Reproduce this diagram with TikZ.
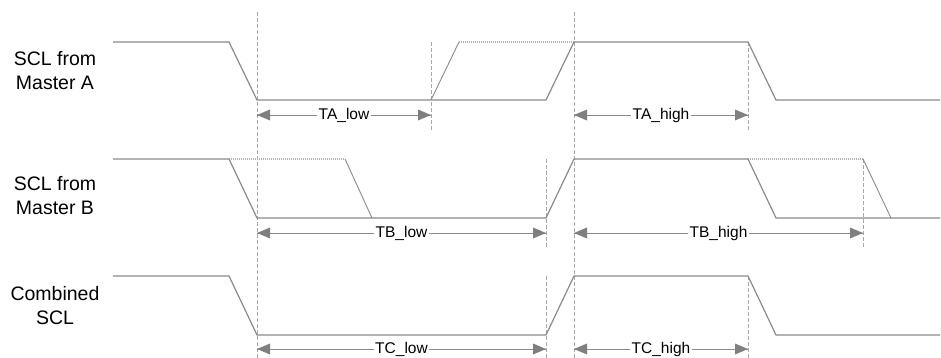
\documentclass[tikz,border=0pt]{standalone}
\usepackage{fontspec}
\setmainfont{Liberation Sans}
\definecolor{sig}{HTML}{8A8A8A}
\definecolor{tip}{HTML}{7F7F7F}
\definecolor{dsh}{HTML}{A8A8A8}
\definecolor{dot}{HTML}{B0B0B0}
\begin{document}
\begin{tikzpicture}[x=1pt,y=-1pt,
  wave/.style={draw=sig,line width=1.2pt,line join=round},
  thinwave/.style={draw=sig,line width=0.9pt},
  dotwave/.style={draw=dot,line width=1.1pt,dash pattern=on 1pt off 1pt},
  guide/.style={draw=dsh,line width=0.9pt,dash pattern=on 4pt off 2pt},
  dim/.style={draw=sig,line width=0.8pt},
  ltip/.pic={\fill[tip] (0,0) -- (13,-5.5) -- (13,5.5) -- cycle;},
  rtip/.pic={\fill[tip] (0,0) -- (-13,-5.5) -- (-13,5.5) -- cycle;},
  dimlabel/.style={fill=white,inner sep=1.5pt,font=\fontsize{15.5}{18}\selectfont},
  rowlabel/.style={align=center,inner sep=0pt,font=\fontsize{19.5}{24}\selectfont}]
\useasboundingbox (0,0) rectangle (941,358);
% row labels
\node[rowlabel] (la) at (55,71) {SCL from\\Master A};
\node[rowlabel] (lb) at (55,196) {SCL from\\Master B};
\node[rowlabel] (lc) at (55,306) {Combined\\SCL};
% guide lines
\draw[guide] (257,12) -- (257,358);
\draw[guide] (574,12) -- (574,358);
\draw[guide] (431,42) -- (431,130);
\draw[guide] (748,42) -- (748,130);
\draw[guide] (546,159) -- (546,248);
\draw[guide] (863,159) -- (863,248);
\draw[guide] (546,276) -- (546,358);
\draw[guide] (748,276) -- (748,358);
% Master A
\draw[dotwave] (459,42) -- (574,42);
\draw[thinwave] (431,100) -- (459,42);
\draw[wave] (113,42) -- (229,42) -- (257,100) -- (546,100) -- (574,42) -- (748,42) -- (776,100) -- (940,100);
% Master B
\draw[dotwave] (229,159) -- (345,159);
\draw[dotwave] (748,159) -- (863,159);
\draw[thinwave] (345,159) -- (372,218);
\draw[thinwave] (863,159) -- (891,218);
\draw[wave] (113,159) -- (229,159) -- (257,218) -- (546,218) -- (574,159) -- (748,159) -- (776,218) -- (940,218);
% Combined
\draw[wave] (113,276) -- (229,276) -- (257,335) -- (546,335) -- (574,276) -- (748,276) -- (776,335) -- (940,335);
% dimension arrows
\coordinate (a1) at (257,115); \coordinate (a2) at (431,115);
\coordinate (a3) at (574,115); \coordinate (a4) at (748,115);
\coordinate (b1) at (257,233); \coordinate (b2) at (546,233);
\coordinate (b3) at (574,233); \coordinate (b4) at (863,233);
\coordinate (c1) at (257,349); \coordinate (c2) at (546,349);
\coordinate (c3) at (574,349); \coordinate (c4) at (748,349);
\draw[dim] (a1) -- node[dimlabel] (ta1) {TA\_low} (a2);
\draw[dim] (a3) -- node[dimlabel] (ta2) {TA\_high} (a4);
\draw[dim] (b1) -- node[dimlabel] (tb1) {TB\_low} (b2);
\draw[dim] (b3) -- node[dimlabel] (tb2) {TB\_high} (b4);
\draw[dim] (c1) -- node[dimlabel] (tc1) {TC\_low} (c2);
\draw[dim] (c3) -- node[dimlabel] (tc2) {TC\_high} (c4);
\foreach \p in {a1,a3,b1,b3,c1,c3} \pic at (\p) {ltip};
\foreach \p in {a2,a4,b2,b4,c2,c4} \pic at (\p) {rtip};
\end{tikzpicture}
\end{document}
